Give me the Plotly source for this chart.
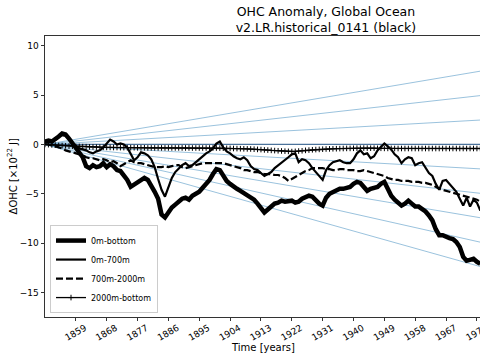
import plotly.graph_objects as go

# ---------------- data ----------------
years = list(range(1850, 1978))

ohc_0m_bottom = [
    0.3, 0.4, 0.3, 0.5, 0.8, 1.1, 1.0, 0.6, 0.1, -0.3,
    -0.8, -1.3, -2.2, -2.4, -2.1, -2.3, -2.2, -1.9, -2.3, -2.0,
    -2.2, -2.6, -2.7, -3.1, -3.6, -4.3, -4.1, -3.9, -3.7, -3.4,
    -3.6, -4.1, -4.8, -5.5, -7.1, -7.4, -6.9, -6.4, -6.1, -5.8,
    -5.5, -5.4, -5.6, -5.2, -5.0, -4.8, -4.4, -4.0, -3.6, -3.0,
    -2.5, -2.6, -3.2, -3.7, -4.0, -4.3, -4.5, -4.7, -4.9, -5.1,
    -5.3, -5.6, -6.0, -6.4, -6.9, -6.6, -6.3, -6.0, -5.9, -5.7,
    -5.8, -5.8, -5.7, -5.9, -5.8, -5.5, -5.3, -5.2, -5.3, -5.7,
    -6.0, -6.2, -5.4, -5.0, -4.8, -4.6, -4.5, -4.5, -4.4, -4.3,
    -4.0, -3.8, -3.9, -4.3, -4.7, -4.5, -4.4, -4.3, -4.0, -3.8,
    -4.5, -5.2, -5.6, -5.9, -6.2, -6.0, -5.7, -6.0, -6.3, -6.3,
    -6.5, -6.8, -7.2, -7.7, -8.6, -9.2, -9.2, -9.4, -9.5, -9.6,
    -9.9, -10.4, -11.4, -11.8, -11.7, -11.6, -11.9, -12.1,
]

ohc_0m_700m = [
    0.2, 0.4, 0.3, 0.5, 0.8, 1.0, 0.9, 0.5, 0.1, -0.2,
    -0.4, -0.5, -0.6, -0.8, -0.9, -0.7, -0.6, -0.3, 0.1, 0.5,
    0.3, 0.0, 0.1, 0.0, -0.3, -1.0, -1.6, -1.3, -0.8, -0.9,
    -1.1, -1.5, -2.3, -3.5, -4.6, -5.3, -4.3, -3.4, -2.8, -2.4,
    -2.1, -1.9, -2.2, -2.1, -1.8, -1.4, -1.1, -0.9, -0.7, -0.4,
    0.1, 0.3, -0.3, -0.7, -0.9, -1.2, -1.4, -1.5, -1.3, -1.6,
    -2.2, -2.5, -2.6, -2.9, -3.2, -3.0, -2.8, -2.4, -2.1, -1.8,
    -1.6, -1.3, -1.0, -0.9, -1.8, -1.5, -1.6, -1.9, -2.4, -2.8,
    -3.3, -3.6, -2.6, -2.1, -1.8, -1.7, -1.6, -1.8, -1.9, -1.9,
    -1.5, -0.9, -0.6, -1.0, -0.9, -1.4, -1.2, -0.6, -0.3, 0.1,
    -0.2, -0.5, -1.0, -1.3, -1.9, -1.5, -1.3, -1.4, -2.1, -1.9,
    -1.8, -2.4, -2.9, -3.2, -4.0, -4.6, -3.7, -3.6, -4.0, -4.4,
    -4.8, -5.5, -6.2, -5.4, -6.3, -5.6, -5.9, -6.7,
]

ohc_700m_2000m = [
    0.0, 0.0, -0.1, -0.2, -0.3, -0.4, -0.6, -0.7, -0.8, -0.9,
    -1.0, -1.1, -1.3, -1.4, -1.4, -1.5, -1.6, -1.5, -1.6, -1.8,
    -1.7, -1.9, -2.2, -2.0, -1.8, -1.6, -1.8, -1.9, -1.9, -2.0,
    -2.1, -2.2, -2.3, -2.3, -2.3, -2.2, -2.3, -2.2, -2.1, -2.1,
    -2.3, -2.4, -2.3, -2.2, -2.1, -2.0, -1.9, -1.9, -1.9, -1.9,
    -1.9, -1.9, -1.9, -2.0, -2.1, -2.2, -2.3, -2.4, -2.6, -2.6,
    -2.7, -2.8, -2.8, -2.9, -3.0, -3.0, -3.0, -3.1, -3.1, -3.2,
    -3.4, -3.7, -3.5, -3.3, -3.1, -2.9, -2.7, -2.6, -2.4, -2.4,
    -2.4, -2.4, -2.5, -2.5, -2.6, -2.6, -2.5, -2.5, -2.6, -2.6,
    -2.6, -2.7, -2.7, -2.6, -2.7, -2.8, -2.9, -3.0, -3.1, -3.2,
    -3.4, -3.5, -3.6, -3.6, -3.7, -3.7, -3.7, -3.8, -3.8, -3.8,
    -3.9, -3.9, -4.0, -4.1, -4.3, -4.5, -4.6, -4.7, -4.8, -4.9,
    -5.0, -5.1, -5.2, -5.3, -5.4, -5.5, -5.6, -5.8,
]

ohc_2000m_bottom = [
    0.0, -0.02, -0.05, -0.07, -0.1, -0.12, -0.14, -0.16, -0.18, -0.2,
    -0.2, -0.22, -0.23, -0.25, -0.26, -0.27, -0.28, -0.29, -0.3, -0.3,
    -0.31, -0.31, -0.32, -0.32, -0.33, -0.33, -0.33, -0.34, -0.34, -0.34,
    -0.35, -0.35, -0.35, -0.35, -0.35, -0.35, -0.35, -0.35, -0.35, -0.35,
    -0.35, -0.35, -0.35, -0.36, -0.36, -0.36, -0.36, -0.36, -0.36, -0.36,
    -0.36, -0.37, -0.38, -0.39, -0.4, -0.41, -0.42, -0.43, -0.44, -0.45,
    -0.46, -0.48, -0.5, -0.52, -0.55, -0.57, -0.6, -0.62, -0.64, -0.66,
    -0.68, -0.7, -0.72, -0.7, -0.67, -0.64, -0.6, -0.57, -0.54, -0.52,
    -0.5, -0.48, -0.46, -0.45, -0.44, -0.43, -0.42, -0.41, -0.4, -0.4,
    -0.39, -0.38, -0.38, -0.37, -0.37, -0.38, -0.38, -0.39, -0.39, -0.4,
    -0.4, -0.4, -0.41, -0.41, -0.41, -0.41, -0.41, -0.41, -0.41, -0.41,
    -0.41, -0.41, -0.41, -0.41, -0.41, -0.41, -0.41, -0.41, -0.41, -0.41,
    -0.41, -0.41, -0.41, -0.41, -0.41, -0.41, -0.41, -0.41,
]

# reference trend lines (blue fan), start and end
ref_years = [1850, 2014]
ref_end_values = [9.6, 6.4, 3.2, 0.0, -3.2, -6.4, -9.6, -12.8, -16.0]

xtick_vals = [1859, 1868, 1877, 1886, 1895, 1904, 1913, 1922, 1931,
              1940, 1949, 1958, 1967, 1976]
ytick_vals = [-15, -10, -5, 0, 5, 10]

# ---------------- figure ----------------
fig = go.Figure()

for v in ref_end_values:
    fig.add_trace(go.Scatter(
        x=ref_years, y=[0, v], mode="lines",
        line=dict(color="rgba(31,119,180,0.5)" if v != 0 else "rgba(31,80,130,0.8)",
                  width=0.9 if v != 0 else 1.2),
        showlegend=False, hoverinfo="skip"))

fig.add_trace(go.Scatter(x=years, y=ohc_0m_bottom, mode="lines", name="0m-bottom",
                         line=dict(color="black", width=4.5)))
fig.add_trace(go.Scatter(x=years, y=ohc_0m_700m, mode="lines", name="0m-700m",
                         line=dict(color="black", width=2.2)))
fig.add_trace(go.Scatter(x=years, y=ohc_700m_2000m, mode="lines", name="700m-2000m",
                         line=dict(color="black", width=2.2, dash="7px,3px")))
fig.add_trace(go.Scatter(x=years, y=ohc_2000m_bottom, mode="lines+markers",
                         name="2000m-bottom",
                         line=dict(color="black", width=1.3),
                         marker=dict(symbol="cross-thin", size=4, color="black",
                                     line=dict(color="black", width=1))))

fig.update_layout(
    width=480, height=360,
    margin=dict(l=45, r=0, t=36, b=43),
    paper_bgcolor="white", plot_bgcolor="white",
    font=dict(family="DejaVu Sans", size=9, color="black"),
    title=dict(text="OHC Anomaly, Global Ocean<br>v2.LR.historical_0141 (black)",
               x=0.679, xanchor="center", xref="container",
               y=0.955, yanchor="top", yref="container",
               font=dict(size=12.5, color="black")),
    showlegend=True,
    legend=dict(x=0.0115, y=0.014, xanchor="left", yanchor="bottom",
                bgcolor="rgba(255,255,255,0.85)", bordercolor="#cccccc",
                borderwidth=1, font=dict(size=8), tracegroupgap=0,
                itemwidth=30),
    annotations=[
        dict(text="ΔOHC [×10<sup>22</sup> J]", textangle=-90,
             xref="paper", yref="paper", x=-0.076, y=0.5,
             xanchor="center", yanchor="middle", showarrow=False,
             font=dict(size=10, color="black")),
        dict(text="Time [years]",
             xref="paper", yref="paper", x=0.5, y=-0.110,
             xanchor="center", yanchor="middle", showarrow=False,
             font=dict(size=10, color="black")),
    ],
)

fig.update_xaxes(
    range=[1850, 1976.9], tickmode="array", tickvals=xtick_vals,
    ticktext=[str(t) for t in xtick_vals], tickangle=-30,
    ticks="outside", ticklen=3.5, tickwidth=0.8, tickcolor="#333",
    showline=True, linecolor="#333", linewidth=0.8, mirror=True,
    showgrid=False, zeroline=False, automargin=False,
    ticklabelshift=9, ticklabelstandoff=-2, ticklabeloverflow="allow",
)
fig.update_yaxes(
    range=[-17.5, 11.0], tickmode="array", tickvals=ytick_vals,
    ticks="outside", ticklen=3.5, tickwidth=0.8, tickcolor="#333",
    showline=True, linecolor="#333", linewidth=0.8, mirror=False,
    showgrid=False, zeroline=False, automargin=False,
)

fig.write_html("out.html", config={"displayModeBar": False},
               post_script="document.body.style.margin='0';")
